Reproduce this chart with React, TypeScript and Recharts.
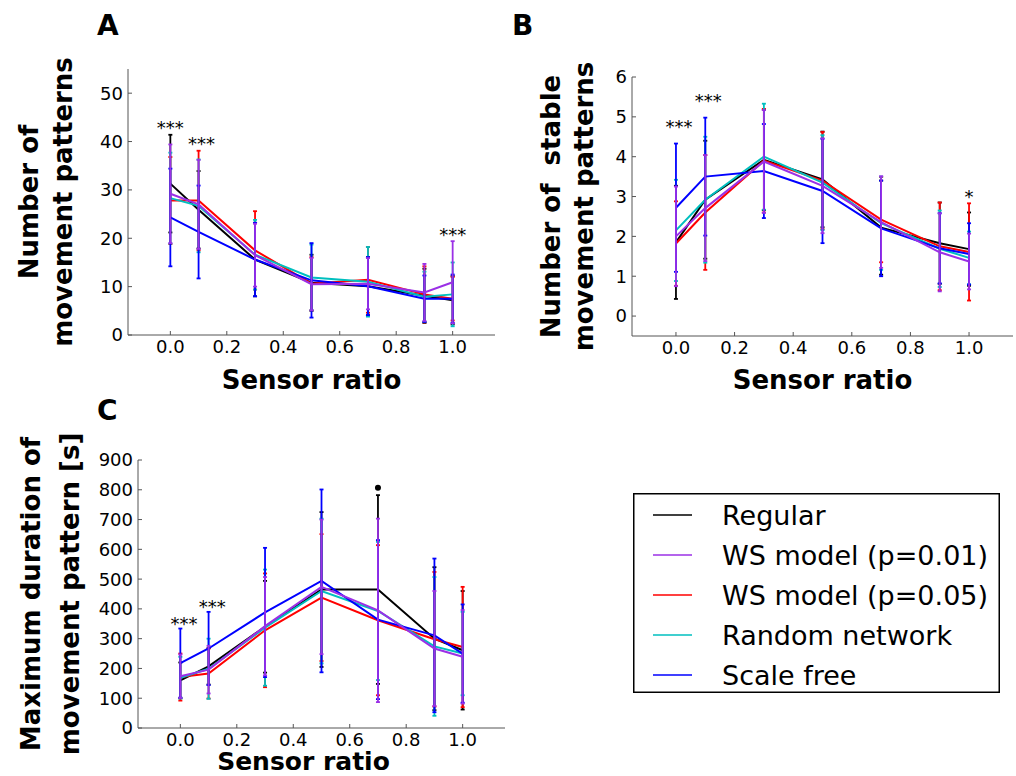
import React from 'react';
import { ComposedChart, Line, ErrorBar, XAxis, YAxis, ReferenceDot, Legend } from 'recharts';

const FONT = 'DejaVu Sans, sans-serif';

const SENSOR = [0, 0.1, 0.3, 0.5, 0.7, 0.9, 1.0];
const X_TICKS = [0, 0.2, 0.4, 0.6, 0.8, 1.0];
const SERIES_NAMES = ['Regular', 'WS model (p=0.01)', 'WS model (p=0.05)', 'Random network', 'Scale free'];
const SERIES_COLORS = ['#000000', '#9b30e6', '#ff0000', '#00bfbf', '#0000ff'];
// purple goes on top, like in the original figure
const DRAW_ORDER = [0, 2, 3, 4, 1];

// A: number of movement patterns, rows follow SERIES_NAMES
const A_MEAN = [
  [31.3, 25.9, 15.6, 10.8, 10.1, 8.1, 7.2],
  [29.2, 27.0, 16.5, 10.5, 10.6, 8.8, 10.9],
  [27.8, 27.8, 17.5, 10.6, 11.4, 8.4, 7.5],
  [28.3, 26.7, 16.6, 11.9, 11.0, 7.9, 8.4],
  [24.3, 21.3, 15.6, 11.3, 10.1, 7.5, 7.5],
];
const A_ERR = [
  [10.1, 8.0, 7.6, 5.8, 6.0, 5.6, 5.0],
  [10.2, 9.2, 6.5, 5.4, 5.3, 5.9, 8.5],
  [9.0, 10.3, 8.1, 5.5, 6.8, 5.8, 4.5],
  [9.4, 9.6, 7.2, 6.8, 7.2, 5.2, 6.6],
  [10.1, 9.6, 7.6, 7.7, 6.0, 4.8, 5.0],
];
const A_NOTES = [
  { x: 0, y: 41.6, text: '***' },
  { x: 0.11, y: 38.3, text: '***' },
  { x: 1.0, y: 19.4, text: '***' },
];

// B: number of stable movement patterns
const B_MEAN = [
  [1.85, 2.92, 3.92, 3.43, 2.22, 1.83, 1.68],
  [2.0, 2.71, 3.88, 3.27, 2.36, 1.6, 1.37],
  [1.82, 2.6, 3.9, 3.4, 2.42, 1.75, 1.61],
  [2.15, 2.92, 4.0, 3.35, 2.33, 1.69, 1.46],
  [2.72, 3.5, 3.64, 3.14, 2.2, 1.7, 1.56],
];
const B_ERR = [
  [1.42, 1.48, 1.26, 1.2, 1.18, 1.02, 0.92],
  [1.25, 1.33, 1.29, 1.19, 1.15, 0.98, 0.7],
  [1.06, 1.44, 1.3, 1.22, 1.07, 1.1, 1.22],
  [1.27, 1.58, 1.33, 1.19, 1.17, 0.96, 0.66],
  [1.61, 1.48, 1.18, 1.31, 1.2, 0.88, 0.77],
];
const B_NOTES = [
  { x: 0.01, y: 4.6, text: '***' },
  { x: 0.11, y: 5.25, text: '***' },
  { x: 1.0, y: 2.85, text: '*' },
];

// C: maximum duration of movement pattern [s]
const C_MEAN = [
  [160, 207, 340, 465, 465, 300, 261],
  [174, 196, 342, 474, 395, 267, 239],
  [171, 183, 328, 438, 362, 298, 272],
  [169, 199, 337, 460, 393, 274, 250],
  [218, 267, 388, 494, 364, 311, 250],
];
const C_ERR = [
  [60, 61, 154, 260, 317, 240, 199],
  [73, 80, 165, 226, 308, 193, 157],
  [79, 84, 191, 213, 252, 226, 202],
  [70, 101, 195, 243, 232, 233, 140],
  [116, 123, 217, 307, 267, 258, 165],
];
const C_NOTES = [
  { x: 0.013, y: 328, text: '***' },
  { x: 0.113, y: 386, text: '***' },
  { x: 0.7, y: 807, text: '•' },
];

const AXIS_GRAY = '#555';
const TOP_PAD = 40; // room above each plot so the rotated titles are not clipped

function YTitle({ viewBox, lines, gaps }: any) {
  const right = viewBox.x + viewBox.width;
  const cy = viewBox.y + viewBox.height / 2;
  return (
    <g>
      {lines.map((t: string, i: number) => (
        <text
          key={i}
          transform={`translate(${right - gaps[i]},${cy}) rotate(-90)`}
          textAnchor="middle"
          fontSize={26}
          fontWeight="bold"
          fontFamily={FONT}
          fill="#000"
          style={{ whiteSpace: 'pre' }}
        >
          {t}
        </text>
      ))}
    </g>
  );
}

function XTitle({ viewBox, dx, dy, size }: any) {
  return (
    <text
      x={viewBox.x + viewBox.width / 2 + dx}
      y={viewBox.y + dy}
      textAnchor="middle"
      fontSize={size}
      fontWeight="bold"
      fontFamily={FONT}
      fill="#000"
    >
      Sensor ratio
    </text>
  );
}

function renderLegend(props: any) {
  const items = [...(props.payload || [])].sort(
    (a: any, b: any) => SERIES_NAMES.indexOf(a.value) - SERIES_NAMES.indexOf(b.value)
  );
  return (
    <svg width={367} height={200} style={{ display: 'block' }}>
      <rect x={0.75} y={0.75} width={365.5} height={198.5} fill="#fff" stroke="#000" strokeWidth={1.5} />
      {items.map((it: any, i: number) => (
        <g key={it.value}>
          <line x1={20} x2={59} y1={22 + 40 * i} y2={22 + 40 * i} stroke={it.color} strokeWidth={1.5} />
          <text x={89} y={32 + 40 * i} fontSize={27} fontFamily={FONT} fill="#000">
            {it.value}
          </text>
        </g>
      ))}
    </svg>
  );
}

type PanelProps = {
  left: number;
  top: number;
  width: number;
  height: number;
  marginRight: number;
  yWidth: number;
  xHeight: number;
  yDomain: number[];
  yTicks: number[];
  means: number[][];
  errs: number[][];
  notes: { x: number; y: number; text: string }[];
  yLines: string[];
  yGaps: number[];
  xTitleDx: number;
  xTitleDy: number;
  xTitleSize: number;
  legendTop?: number;
};

function Panel(p: PanelProps) {
  return (
    <div style={{ position: 'absolute', left: p.left, top: p.top }}>
      <ComposedChart
        width={p.width}
        height={p.height}
        margin={{ top: TOP_PAD, right: p.marginRight, bottom: 0, left: 0 }}
        style={{ fontFamily: FONT }}
      >
        <XAxis
          dataKey="s"
          type="number"
          domain={[-0.15, 1.15]}
          ticks={X_TICKS}
          tickFormatter={(v: number) => v.toFixed(1)}
          tick={{ fill: '#000', fontSize: 18 }}
          tickSize={-4}
          tickMargin={9}
          height={p.xHeight}
          stroke={AXIS_GRAY}
          allowDataOverflow
          label={<XTitle dx={p.xTitleDx} dy={p.xTitleDy} size={p.xTitleSize} />}
        />
        <XAxis
          xAxisId="top"
          orientation="top"
          type="number"
          domain={[-0.15, 1.15]}
          ticks={X_TICKS}
          tick={false}
          tickSize={-4}
          height={0}
          stroke={AXIS_GRAY}
          allowDataOverflow
        />
        <YAxis
          type="number"
          domain={p.yDomain}
          ticks={p.yTicks}
          tick={{ fill: '#000', fontSize: 18 }}
          tickSize={-4}
          tickMargin={9}
          width={p.yWidth}
          stroke={AXIS_GRAY}
          allowDataOverflow
          label={<YTitle lines={p.yLines} gaps={p.yGaps} />}
        />
        <YAxis
          yAxisId="right"
          orientation="right"
          type="number"
          domain={p.yDomain}
          ticks={p.yTicks}
          tick={false}
          tickSize={-4}
          width={0}
          stroke={AXIS_GRAY}
          allowDataOverflow
        />
        {DRAW_ORDER.map((k) => {
          const rows = SENSOR.map((s, i) => ({ s, m: p.means[k][i], e: p.errs[k][i] }));
          return (
            <Line
              key={SERIES_NAMES[k]}
              name={SERIES_NAMES[k]}
              data={rows}
              dataKey="m"
              type="linear"
              stroke={SERIES_COLORS[k]}
              strokeWidth={2}
              dot={false}
              activeDot={false}
              isAnimationActive={false}
            >
              <ErrorBar
                dataKey="e"
                direction="y"
                width={2}
                strokeWidth={1.8}
                stroke={SERIES_COLORS[k]}
                isAnimationActive={false}
              />
            </Line>
          );
        })}
        {p.notes.map((n, i) => (
          <ReferenceDot
            key={i}
            x={n.x}
            y={n.y}
            r={0}
            shape={(sp: any) =>
              n.text === '•' ? (
                <circle cx={sp.cx} cy={sp.cy} r={3} fill="#000" />
              ) : (
                <text x={sp.cx} y={sp.cy} textAnchor="middle" fontSize={18} fontFamily={FONT} fill="#000">
                  {n.text}
                </text>
              )
            }
          />
        ))}
        {p.legendTop !== undefined && (
          <Legend
            layout="horizontal"
            verticalAlign="middle"
            align="center"
            content={renderLegend}
            wrapperStyle={{ position: 'absolute', left: 633, top: p.legendTop, width: 367, height: 200 }}
          />
        )}
      </ComposedChart>
    </div>
  );
}

export default function App() {
  return (
    <div
      style={{
        position: 'absolute',
        left: 0,
        top: 0,
        width: 1016,
        height: 776,
        overflow: 'hidden',
        background: '#fff',
        fontFamily: FONT,
      }}
    >
      <Panel
        left={0}
        top={69 - TOP_PAD}
        width={500}
        height={TOP_PAD + 266 + 60}
        marginRight={5}
        yWidth={128}
        xHeight={60}
        yDomain={[0, 55]}
        yTicks={[0, 10, 20, 30, 40, 50]}
        means={A_MEAN}
        errs={A_ERR}
        notes={A_NOTES}
        yLines={['Number of', 'movement patterns']}
        yGaps={[90, 56.5]}
        xTitleDx={0}
        xTitleDy={54}
        xTitleSize={26}
      />
      <Panel
        left={520}
        top={77 - TOP_PAD}
        width={498}
        height={TOP_PAD + 259 + 60}
        marginRight={5}
        yWidth={112}
        xHeight={60}
        yDomain={[-0.5, 6]}
        yTicks={[0, 1, 2, 3, 4, 5, 6]}
        means={B_MEAN}
        errs={B_ERR}
        notes={B_NOTES}
        yLines={['Number of  stable', 'movement patterns']}
        yGaps={[72, 39]}
        xTitleDx={0}
        xTitleDy={53}
        xTitleSize={26}
      />
      <Panel
        left={0}
        top={460 - TOP_PAD}
        width={1016}
        height={TOP_PAD + 268 + 48}
        marginRight={511}
        yWidth={138}
        xHeight={48}
        yDomain={[0, 900]}
        yTicks={[0, 100, 200, 300, 400, 500, 600, 700, 800, 900]}
        means={C_MEAN}
        errs={C_ERR}
        notes={C_NOTES}
        yLines={['Maximum duration of', 'movement pattern [s]']}
        yGaps={[98, 59]}
        xTitleDx={-18}
        xTitleDy={42}
        xTitleSize={25}
        legendTop={493 - (460 - TOP_PAD)}
      />
      <svg width={1016} height={776} style={{ position: 'absolute', left: 0, top: 0, pointerEvents: 'none' }}>
        <text x={97} y={35} fontSize={28} fontWeight="bold" fontFamily={FONT}>A</text>
        <text x={512} y={35} fontSize={28} fontWeight="bold" fontFamily={FONT}>B</text>
        <text x={97} y={420} fontSize={28} fontWeight="bold" fontFamily={FONT}>C</text>
      </svg>
    </div>
  );
}
